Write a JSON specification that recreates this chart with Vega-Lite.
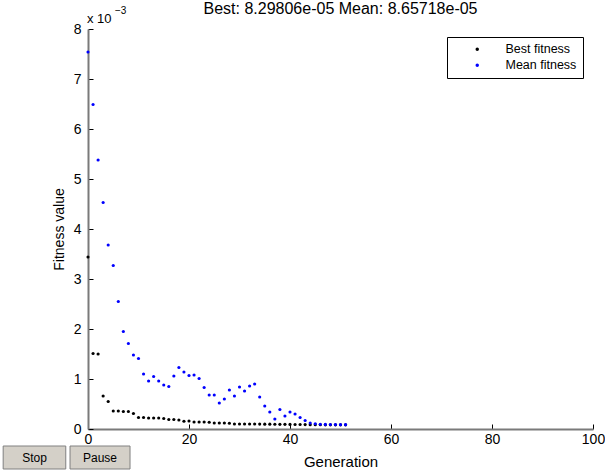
{
  "$schema": "https://vega.github.io/schema/vega-lite/v6.json",
  "autosize": {"type": "none"},
  "padding": {"left": 88, "top": 29, "right": 12, "bottom": 47},
  "width": 505,
  "height": 400,
  "background": "white",
  "config": {"font": "Liberation Sans", "view": {"stroke": null}},
  "datasets": {
    "ga": [
      {"gen":0,"series":"Best fitness","fitness":0.00344},{"gen":1,"series":"Best fitness","fitness":0.00151},{"gen":2,"series":"Best fitness","fitness":0.0015},{"gen":3,"series":"Best fitness","fitness":0.00066},{"gen":4,"series":"Best fitness","fitness":0.00055},{"gen":5,"series":"Best fitness","fitness":0.00036},{"gen":6,"series":"Best fitness","fitness":0.00036},{"gen":7,"series":"Best fitness","fitness":0.00035},{"gen":8,"series":"Best fitness","fitness":0.00035},{"gen":9,"series":"Best fitness","fitness":0.00031},{"gen":10,"series":"Best fitness","fitness":0.00023},{"gen":11,"series":"Best fitness","fitness":0.00023},{"gen":12,"series":"Best fitness","fitness":0.00022},{"gen":13,"series":"Best fitness","fitness":0.00022},{"gen":14,"series":"Best fitness","fitness":0.00022},{"gen":15,"series":"Best fitness","fitness":0.00021},{"gen":16,"series":"Best fitness","fitness":0.00019},{"gen":17,"series":"Best fitness","fitness":0.00019},{"gen":18,"series":"Best fitness","fitness":0.00018},{"gen":19,"series":"Best fitness","fitness":0.000155},{"gen":20,"series":"Best fitness","fitness":0.00016},{"gen":21,"series":"Best fitness","fitness":0.00014},{"gen":22,"series":"Best fitness","fitness":0.00014},{"gen":23,"series":"Best fitness","fitness":0.00014},{"gen":24,"series":"Best fitness","fitness":0.000135},{"gen":25,"series":"Best fitness","fitness":0.00012},{"gen":26,"series":"Best fitness","fitness":0.00012},{"gen":27,"series":"Best fitness","fitness":0.00012},{"gen":28,"series":"Best fitness","fitness":0.000115},{"gen":29,"series":"Best fitness","fitness":0.0001},{"gen":30,"series":"Best fitness","fitness":0.0001},{"gen":31,"series":"Best fitness","fitness":0.0001},{"gen":32,"series":"Best fitness","fitness":0.0001},{"gen":33,"series":"Best fitness","fitness":0.0001},{"gen":34,"series":"Best fitness","fitness":0.000098},{"gen":35,"series":"Best fitness","fitness":0.000097},{"gen":36,"series":"Best fitness","fitness":0.000096},{"gen":37,"series":"Best fitness","fitness":0.000095},{"gen":38,"series":"Best fitness","fitness":0.000094},{"gen":39,"series":"Best fitness","fitness":0.000093},{"gen":40,"series":"Best fitness","fitness":0.000092},{"gen":41,"series":"Best fitness","fitness":0.00009},{"gen":42,"series":"Best fitness","fitness":0.00009},{"gen":43,"series":"Best fitness","fitness":0.000088},{"gen":44,"series":"Best fitness","fitness":0.000087},{"gen":45,"series":"Best fitness","fitness":0.000086},{"gen":46,"series":"Best fitness","fitness":0.000085},{"gen":47,"series":"Best fitness","fitness":0.000084},{"gen":48,"series":"Best fitness","fitness":0.000084},{"gen":49,"series":"Best fitness","fitness":0.000083},{"gen":50,"series":"Best fitness","fitness":0.000083},{"gen":51,"series":"Best fitness","fitness":0.0000829806},
      {"gen":0,"series":"Mean fitness","fitness":0.00754},{"gen":1,"series":"Mean fitness","fitness":0.00649},{"gen":2,"series":"Mean fitness","fitness":0.00538},{"gen":3,"series":"Mean fitness","fitness":0.00453},{"gen":4,"series":"Mean fitness","fitness":0.00368},{"gen":5,"series":"Mean fitness","fitness":0.00327},{"gen":6,"series":"Mean fitness","fitness":0.00255},{"gen":7,"series":"Mean fitness","fitness":0.00195},{"gen":8,"series":"Mean fitness","fitness":0.00171},{"gen":9,"series":"Mean fitness","fitness":0.00148},{"gen":10,"series":"Mean fitness","fitness":0.00141},{"gen":11,"series":"Mean fitness","fitness":0.0011},{"gen":12,"series":"Mean fitness","fitness":0.00096},{"gen":13,"series":"Mean fitness","fitness":0.00105},{"gen":14,"series":"Mean fitness","fitness":0.00096},{"gen":15,"series":"Mean fitness","fitness":0.00088},{"gen":16,"series":"Mean fitness","fitness":0.00085},{"gen":17,"series":"Mean fitness","fitness":0.00106},{"gen":18,"series":"Mean fitness","fitness":0.00123},{"gen":19,"series":"Mean fitness","fitness":0.00114},{"gen":20,"series":"Mean fitness","fitness":0.00107},{"gen":21,"series":"Mean fitness","fitness":0.00108},{"gen":22,"series":"Mean fitness","fitness":0.00101},{"gen":23,"series":"Mean fitness","fitness":0.00083},{"gen":24,"series":"Mean fitness","fitness":0.00068},{"gen":25,"series":"Mean fitness","fitness":0.00068},{"gen":26,"series":"Mean fitness","fitness":0.00052},{"gen":27,"series":"Mean fitness","fitness":0.0006},{"gen":28,"series":"Mean fitness","fitness":0.00078},{"gen":29,"series":"Mean fitness","fitness":0.00066},{"gen":30,"series":"Mean fitness","fitness":0.00084},{"gen":31,"series":"Mean fitness","fitness":0.00076},{"gen":32,"series":"Mean fitness","fitness":0.00086},{"gen":33,"series":"Mean fitness","fitness":0.0009},{"gen":34,"series":"Mean fitness","fitness":0.00064},{"gen":35,"series":"Mean fitness","fitness":0.00046},{"gen":36,"series":"Mean fitness","fitness":0.00034},{"gen":37,"series":"Mean fitness","fitness":0.0002},{"gen":38,"series":"Mean fitness","fitness":0.00039},{"gen":39,"series":"Mean fitness","fitness":0.00026},{"gen":40,"series":"Mean fitness","fitness":0.00034},{"gen":41,"series":"Mean fitness","fitness":0.0003},{"gen":42,"series":"Mean fitness","fitness":0.00023},{"gen":43,"series":"Mean fitness","fitness":0.00017},{"gen":44,"series":"Mean fitness","fitness":0.00012},{"gen":45,"series":"Mean fitness","fitness":0.000105},{"gen":46,"series":"Mean fitness","fitness":0.000095},{"gen":47,"series":"Mean fitness","fitness":0.000092},{"gen":48,"series":"Mean fitness","fitness":0.00009},{"gen":49,"series":"Mean fitness","fitness":0.000088},{"gen":50,"series":"Mean fitness","fitness":0.000087},{"gen":51,"series":"Mean fitness","fitness":0.0000865718}
    ]
  },
  "layer": [
    {
      "data": {"name": "ga"},
      "mark": {"type": "point", "filled": true, "size": 10, "opacity": 1},
      "encoding": {
        "x": {"field": "gen", "type": "quantitative",
          "scale": {"domain": [0, 100], "nice": false, "zero": false},
          "axis": {"values": [0, 20, 40, 60, 80, 100], "title": "Generation", "grid": false,
            "domainColor": "#7a7a7a", "domainWidth": 2, "tickColor": "black", "tickSize": -5, "tickWidth": 1,
            "labelPadding": 8, "labelFontSize": 14, "labelColor": "black", "labelFlush": false,
            "titleFontSize": 15, "titleFontWeight": "normal", "titleColor": "black",
            "titleX": 252.5, "titleY": 37, "titleBaseline": "alphabetic"}},
        "y": {"field": "fitness", "type": "quantitative",
          "scale": {"domain": [0, 0.008], "nice": false, "zero": false},
          "axis": {"values": [0, 0.001, 0.002, 0.003, 0.004, 0.005, 0.006, 0.007, 0.008],
            "labelExpr": "format(datum.value*1000, '.0f')", "title": "Fitness value", "grid": false,
            "domainColor": "#7a7a7a", "domainWidth": 2, "tickColor": "black", "tickSize": -5, "tickWidth": 1,
            "labelPadding": 12, "labelFontSize": 14, "labelColor": "black", "labelFlush": false,
            "titleFontSize": 14, "titleFontWeight": "normal", "titleColor": "black",
            "titleX": -25, "titleY": 200, "titleAngle": -90, "titleBaseline": "alphabetic"}},
        "color": {"field": "series", "type": "nominal",
          "scale": {"domain": ["Best fitness", "Mean fitness"], "range": ["black", "#0000ff"]},
          "legend": {"title": null, "orient": "none", "legendX": 359, "legendY": 8,
            "strokeColor": "black", "fillColor": "white", "padding": 6,
            "symbolType": "circle", "symbolSize": 12, "symbolStrokeWidth": 0,
            "symbolOffset": 18, "labelOffset": 22, "labelAlign": "left", "labelFontSize": 12.5, "labelColor": "black",
            "rowPadding": 3}}
      }
    },
    {
      "data": {"values": [{}]},
      "mark": {"type": "text", "align": "center", "baseline": "alphabetic", "fontSize": 16, "color": "black", "dy": -15},
      "encoding": {"x": {"datum": 50}, "y": {"datum": 0.008}, "text": {"value": "Best: 8.29806e-05 Mean: 8.65718e-05"}}
    },
    {
      "data": {"values": [{}]},
      "mark": {"type": "text", "align": "left", "baseline": "alphabetic", "fontSize": 13, "color": "black", "dx": -1, "dy": -6},
      "encoding": {"x": {"datum": 0}, "y": {"datum": 0.008}, "text": {"value": "x 10"}}
    },
    {
      "data": {"values": [{}]},
      "mark": {"type": "text", "align": "left", "baseline": "alphabetic", "fontSize": 10, "color": "black", "dx": 27, "dy": -15},
      "encoding": {"x": {"datum": 0}, "y": {"datum": 0.008}, "text": {"value": "−3"}}
    },
    {
      "data": {"values": [{}]},
      "mark": {"type": "rect", "fill": "#d4d0c8", "stroke": "#808080", "strokeWidth": 1},
      "encoding": {"x": {"datum": -16.8}, "x2": {"datum": -4.4}, "y": {"datum": -0.00034}, "y2": {"datum": -0.0008}}
    },
    {
      "data": {"values": [{}]},
      "mark": {"type": "rect", "fill": "#d4d0c8", "stroke": "#808080", "strokeWidth": 1},
      "encoding": {"x": {"datum": -3.56}, "x2": {"datum": 8.32}, "y": {"datum": -0.00034}, "y2": {"datum": -0.0008}}
    },
    {
      "data": {"values": [{}]},
      "mark": {"type": "text", "align": "center", "baseline": "middle", "fontSize": 12, "color": "black"},
      "encoding": {"x": {"datum": -10.6}, "y": {"datum": -0.00057}, "text": {"value": "Stop"}}
    },
    {
      "data": {"values": [{}]},
      "mark": {"type": "text", "align": "center", "baseline": "middle", "fontSize": 12, "color": "black"},
      "encoding": {"x": {"datum": 2.38}, "y": {"datum": -0.00057}, "text": {"value": "Pause"}}
    }
  ]
}
